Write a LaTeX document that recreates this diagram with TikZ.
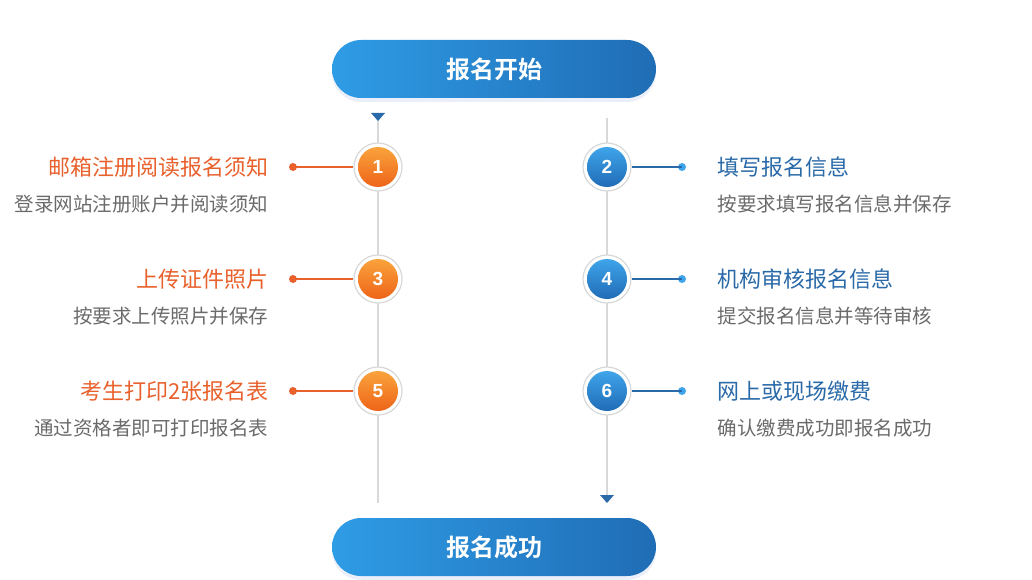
\documentclass[tikz,border=0pt]{standalone}
\usepackage{fontspec}
\setmainfont{Liberation Sans}
\newfontfamily\cjk{Noto Sans CJK SC}
\newfontfamily\cjkb{Noto Sans CJK SC Bold}
\usetikzlibrary{shadows}
\definecolor{org}{HTML}{E8612C}
\definecolor{blu}{HTML}{2A6AA8}
\definecolor{gry}{HTML}{6A6A6A}
\definecolor{lin}{HTML}{D8D8D8}
\definecolor{pl}{HTML}{2F9CE6}\definecolor{pr}{HTML}{1F6DB5}
\definecolor{ot}{HTML}{F9A33C}\definecolor{ob}{HTML}{EE6418}
\definecolor{bt}{HTML}{3FA4EA}\definecolor{bb}{HTML}{1F6CB6}
\tikzset{
 pill/.style={rounded corners=29pt, minimum width=324pt, minimum height=58pt, left color=pl, right color=pr, draw=none, font=\cjkb\fontsize{24}{26}\selectfont, text=white, drop shadow={opacity=0.2, shadow xshift=0pt, shadow yshift=-4pt, fill=cyan!40!blue!40}},
 ring/.style={circle, minimum size=48pt, fill=white, draw=lin, line width=1.2pt},
 onum/.style={circle, minimum size=40pt, top color=ot, bottom color=ob, text=white, font=\bfseries\fontsize{19}{20}\selectfont},
 bnum/.style={circle, minimum size=40pt, top color=bt, bottom color=bb, text=white, font=\bfseries\fontsize{19}{20}\selectfont},
 ltitle/.style={anchor=east, text=org, font=\cjk\fontsize{22}{24}\selectfont},
 rtitle/.style={anchor=west, text=blu, font=\cjk\fontsize{22}{24}\selectfont},
 lsub/.style={anchor=east, text=gry, font=\cjk\fontsize{19.5}{21}\selectfont},
 rsub/.style={anchor=west, text=gry, font=\cjk\fontsize{19.5}{21}\selectfont},
 tri/.style={fill=blu}
}
\begin{document}
\begin{tikzpicture}[x=1pt,y=-1pt]
\useasboundingbox (0,0) rectangle (1032,580);
\node[pill] (start) at (494,69) {报名开始};
\node[pill] (end) at (494,547) {报名成功};
\coordinate (lt) at (378,120); \coordinate (lb) at (378,503);
\coordinate (rt) at (607,118); \coordinate (rb) at (607,497);
\draw[lin, line width=1.2pt] (lt) -- (lb);
\draw[lin, line width=1.2pt] (rt) -- (rb);
\fill[tri] (371,113) -- (385,113) -- (378,121) -- cycle;
\fill[tri] (600,495) -- (614,495) -- (607,503) -- cycle;
\foreach \n/\y/\t/\s in {1/167/邮箱注册阅读报名须知/登录网站注册账户并阅读须知,3/279/上传证件照片/按要求上传照片并保存,5/391/考生打印2张报名表/通过资格者即可打印报名表}{
 \node[ring] (r\n) at (378,\y) {};
 \node[onum] (c\n) at (378,\y) {\n};
 \fill[org] (293,\y) circle (4pt) coordinate (d\n);
 \draw[org, line width=1.3pt] (d\n) -- (r\n.west);
 \node[ltitle] (t\n) at (272,\y) {\t};
 \node[lsub] (s\n) at (272,\y+37) {\s};
}
\foreach \n/\y/\t/\s in {2/167/填写报名信息/按要求填写报名信息并保存,4/279/机构审核报名信息/提交报名信息并等待审核,6/391/网上或现场缴费/确认缴费成功即报名成功}{
 \node[ring] (r\n) at (607,\y) {};
 \node[bnum] (c\n) at (607,\y) {\n};
 \fill[bt] (682,\y) circle (4pt) coordinate (d\n);
 \draw[blu, line width=1.3pt] (r\n.east) -- (d\n);
 \node[rtitle] (t\n) at (714,\y) {\t};
 \node[rsub] (s\n) at (714,\y+37) {\s};
}
\end{tikzpicture}
\end{document}
